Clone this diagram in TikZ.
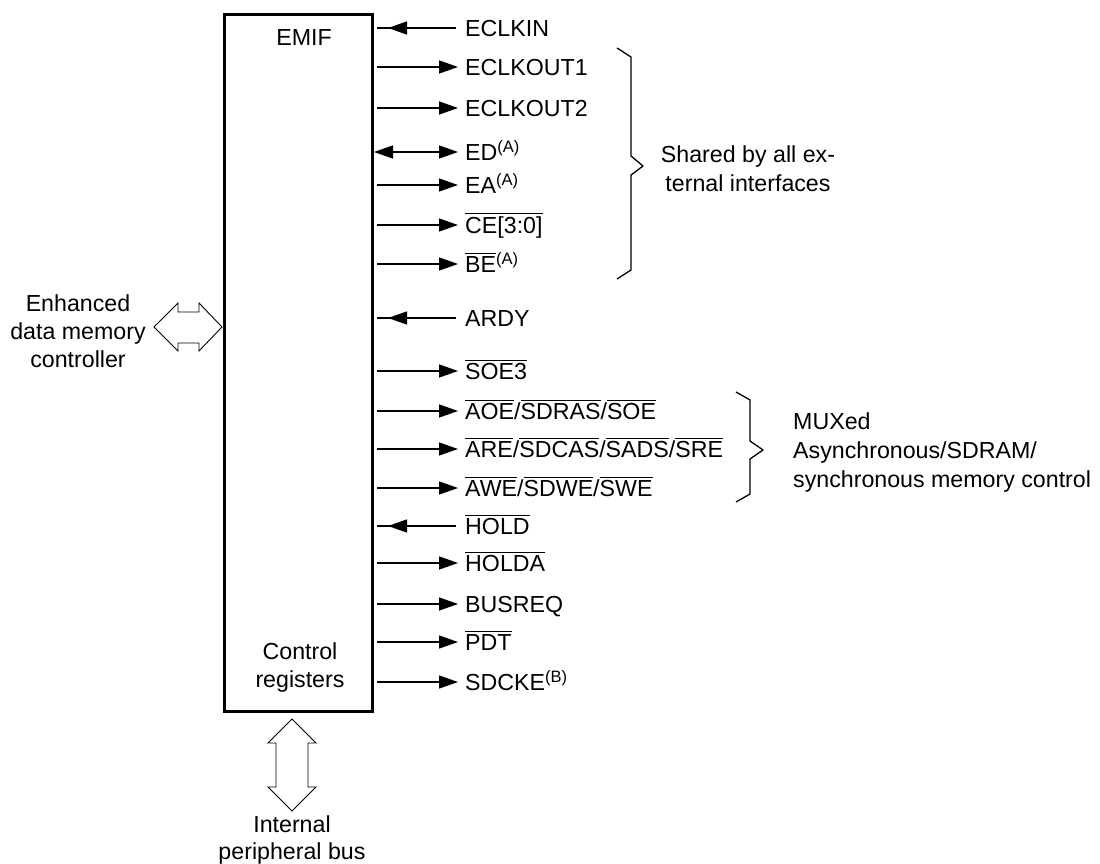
\documentclass[tikz,border=0pt]{standalone}
\usepackage{fontspec}
\setmainfont{Liberation Sans}
\usetikzlibrary{arrows.meta}
\newcommand\ovl[1]{\vbox{\hrule height 1.2pt\kern 2.4pt\hbox{#1}}}
\newcommand\supx[1]{\raisebox{7.5pt}{\fontsize{16.5}{16}\selectfont #1}}
\begin{document}
\begin{tikzpicture}[x=1pt,y=-1pt,
  txt/.style={font=\fontsize{23.2}{29}\selectfont, inner sep=0pt},
  txtb/.style={font=\fontsize{23.2}{28}\selectfont, inner sep=0pt},
  sig/.style={txt, anchor=west, text height=16.6pt, text depth=0pt},
  wire/.style={line width=1.3pt},
  outarrow/.style={wire, -{Triangle[length=19pt,width=13pt]}, shorten <=3pt},
  botharrow/.style={wire, {Triangle[length=19pt,width=13pt]}-{Triangle[length=19pt,width=13pt]}},
  inline/.style={wire, shorten >=3pt},
  inhead/.style={wire, -{Triangle[length=19pt,width=13pt]}, shorten >=14pt},
  brace/.style={line width=1.3pt, line join=round},
  fat/.style={draw, fill=white, line width=0.9pt, line join=miter}
]
\useasboundingbox (0,0) rectangle (1100,864);

\node[draw, line width=3pt, minimum width=148pt, minimum height=697pt, inner sep=0pt] (box) at (298.5,363) {};
\node[txt] (emif) at (304,38) {EMIF};
\node[txtb, align=center, anchor=north] (ctrl) at (300,642) {Control\\registers};

% signals
\node[sig] (eclkin) at (465,28) {ECLKIN};
\node[sig] (eclkout1) at (465,67) {ECLKOUT1};
\node[sig] (eclkout2) at (465,108) {ECLKOUT2};
\node[sig] (ed) at (465,152) {ED\supx{(A)}};
\node[sig] (ea) at (465,185) {EA\supx{(A)}};
\node[sig] (ce) at (465,225) {\ovl{CE[3:0]}};
\node[sig] (be) at (465,264) {\ovl{BE}\supx{(A)}};
\node[sig] (ardy) at (465,318) {ARDY};
\node[sig] (soe3) at (465,371) {\ovl{SOE3}};
\node[sig] (aoe) at (465,411) {\ovl{AOE}/\ovl{SDRAS}/\ovl{SOE}};
\node[sig] (are) at (465,449) {\ovl{ARE}/\ovl{SDCAS}/\ovl{SADS}/\ovl{SRE}};
\node[sig] (awe) at (465,488) {\ovl{AWE}/\ovl{SDWE}/\ovl{SWE}};
\node[sig] (hold) at (465,526) {\ovl{HOLD}};
\node[sig] (holda) at (465,563) {\ovl{HOLDA}};
\node[sig] (busreq) at (465,604) {BUSREQ};
\node[sig] (pdt) at (465,642) {\ovl{PDT}};
\node[sig] (sdcke) at (465,682) {SDCKE\supx{(B)}};

% inputs
\draw[inline] ([xshift=-9pt]eclkin.west) -- (box.east |- eclkin.west);
\draw[inhead] ([xshift=-9pt]eclkin.west) -- (box.east |- eclkin.west);
\draw[inline] ([xshift=-9pt]ardy.west) -- (box.east |- ardy.west);
\draw[inhead] ([xshift=-9pt]ardy.west) -- (box.east |- ardy.west);
\draw[inline] ([xshift=-9pt]hold.west) -- (box.east |- hold.west);
\draw[inhead] ([xshift=-9pt]hold.west) -- (box.east |- hold.west);

% bidirectional
\draw[botharrow] (box.east |- ed.west) -- ([xshift=-7pt]ed.west);

% outputs
\draw[outarrow] (box.east |- eclkout1.west) -- ([xshift=-7pt]eclkout1.west);
\draw[outarrow] (box.east |- eclkout2.west) -- ([xshift=-7pt]eclkout2.west);
\draw[outarrow] (box.east |- ea.west) -- ([xshift=-7pt]ea.west);
\draw[outarrow] (box.east |- ce.west) -- ([xshift=-7pt]ce.west);
\draw[outarrow] (box.east |- be.west) -- ([xshift=-7pt]be.west);
\draw[outarrow] (box.east |- soe3.west) -- ([xshift=-7pt]soe3.west);
\draw[outarrow] (box.east |- aoe.west) -- ([xshift=-7pt]aoe.west);
\draw[outarrow] (box.east |- are.west) -- ([xshift=-7pt]are.west);
\draw[outarrow] (box.east |- awe.west) -- ([xshift=-7pt]awe.west);
\draw[outarrow] (box.east |- holda.west) -- ([xshift=-7pt]holda.west);
\draw[outarrow] (box.east |- busreq.west) -- ([xshift=-7pt]busreq.west);
\draw[outarrow] (box.east |- pdt.west) -- ([xshift=-7pt]pdt.west);
\draw[outarrow] (box.east |- sdcke.west) -- ([xshift=-7pt]sdcke.west);

% braces
\draw[brace] (617,48) -- (631,57) -- (631,156) -- (643,166) -- (631,175) -- (631,270) -- (617,279);
\node[txt, align=center, anchor=north] (shared) at (748,145) {Shared by all ex-\\ternal interfaces};
\draw[brace] (736,392) -- (750,400) -- (750,441) -- (763,450) -- (750,459) -- (750,494) -- (736,502);
\node[txt, align=left, anchor=north west] (mux) at (793,412) {MUXed\\Asynchronous/SDRAM/\\synchronous memory control};

% left fat double arrow
\node[txtb, align=center, anchor=north] (edmc) at (78,294) {Enhanced\\data memory\\controller};
\draw[fat] (154,327) -- (178,303) -- (178,312) -- (199,312) -- (199,303) -- (222,327)
  -- (199,351) -- (199,343) -- (178,343) -- (178,351) -- cycle;

% bottom fat double arrow
\draw[fat] (292,719) -- (316,743) -- (308,743) -- (308,787) -- (316,787) -- (292,811)
  -- (268,787) -- (276,787) -- (276,743) -- (268,743) -- cycle;
\node[txtb, align=center, anchor=north, font=\fontsize{23.2}{27}\selectfont] (ipb) at (292,815) {Internal\\peripheral bus};
\end{tikzpicture}
\end{document}
